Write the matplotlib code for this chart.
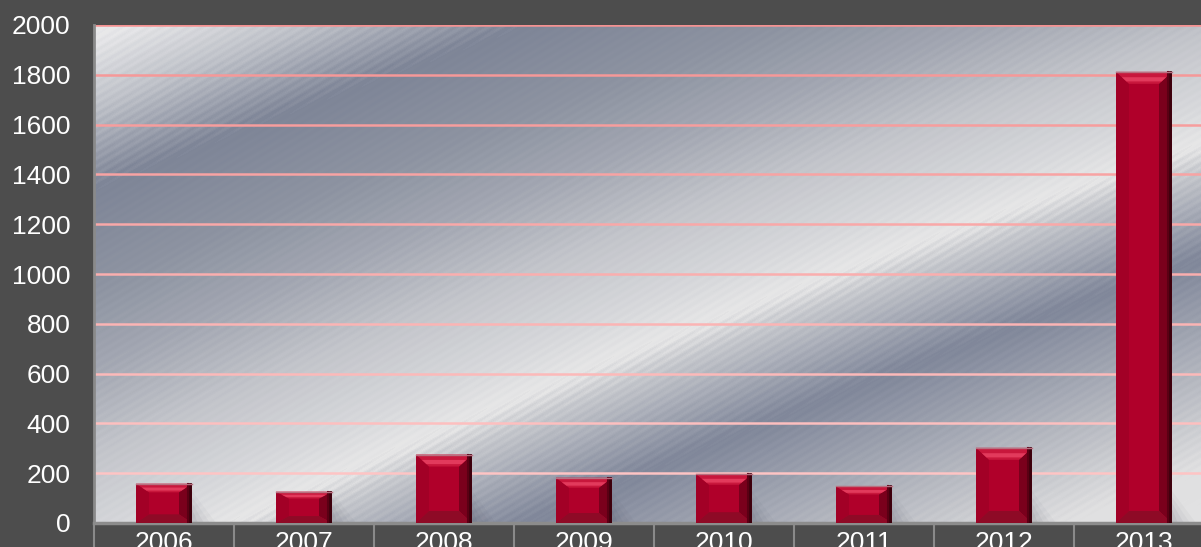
import numpy as np
import matplotlib
matplotlib.use("Agg")
import matplotlib.pyplot as plt
from matplotlib.colors import LinearSegmentedColormap, to_rgb
from matplotlib.patches import Polygon

# data
years = ["2006", "2007", "2008", "2009", "2010", "2011", "2012", "2013"]
counts = [158, 126, 275, 182, 197, 147, 302, 1812]
yticks = [0, 200, 400, 600, 800, 1000, 1200, 1400, 1600, 1800, 2000]

plt.rcParams['font.family'] = ['Liberation Sans', 'DejaVu Sans']

fig = plt.figure(figsize=(12.01, 5.47), dpi=100)
fig.patch.set_facecolor('#4d4d4d')
ax = fig.add_axes([94 / 1201, 24 / 547, 1120 / 1201, 498 / 547])

# metallic diagonal background (pixel grid of the plot area)
H, W = 498, 1120
yy, xx = np.mgrid[0:H, 0:W]
v = (yy + 25) + 0.48 * (xx + 94) - 0.1 * (xx + 94) * (1 - (yy + 25) / 523.0)
n = (v - 70) / 1036.0
metal = LinearSegmentedColormap.from_list("metal", [
    (0.00, '#e8e8ea'), (0.07, '#bfc2c9'), (0.15, '#7e8597'),
    (0.25, '#8e94a2'), (0.33, '#a4a8b3'), (0.41, '#c2c4ca'),
    (0.50, '#d8d9dc'), (0.545, '#e7e7e7'), (0.575, '#c6c8cd'),
    (0.68, '#80879a'), (0.85, '#c0c2c8'), (0.93, '#e0e0e1'), (1.00, '#e2e2e3')])
streak = 0.006 * np.sin(2 * np.pi * (yy + 0.6 * xx) / 8.0)
bg = np.clip(n + streak, 0, 1)
ax.imshow(bg, cmap=metal, vmin=0, vmax=1, extent=[0, 1, 0, 1],
          transform=ax.transAxes, aspect='auto', zorder=0, interpolation='bilinear')

x = np.arange(len(years))
ax.set_xlim(-0.5, len(years) - 0.5)
ax.set_ylim(0, 2000)

# gridlines: stronger pink at the top, paler near the bottom
c_top = np.array(to_rgb('#f59292'))
c_bot = np.array(to_rgb('#ffcaca'))
for yv in yticks:
    f = yv / 2000.0
    ax.axhline(yv, color=c_bot + (c_top - c_bot) * f, lw=1.8, zorder=1)

# bevelled bars
bw = 0.4
bars = ax.bar(x, counts, width=bw, color='#b0002a', zorder=3, linewidth=0)
ppx = 2000 / 498.0  # data units per pixel (vertical)
upx = 8 / 1120.0    # x units per pixel
for b in bars:
    x0 = b.get_x()
    x1 = x0 + b.get_width()
    h = b.get_height()
    dx = 13 * upx
    dy = min(12 * ppx, h * 0.22)
    # soft shadow at the bottom right
    for k, a in enumerate([0.06, 0.05, 0.04, 0.03]):
        sw = (6 + 6 * k) * upx
        sh = min(h, (14 + 6 * k) * ppx)
        ax.add_patch(Polygon([(x1, 0), (x1 + sw, 0), (x1, sh)], closed=True,
                             fc='#303040', ec='none', alpha=a, zorder=2))
    top = [(x0, h), (x1, h), (x1 - dx, h - dy), (x0 + dx, h - dy)]
    hil = [(x0 + dx * 0.45, h - dy * 0.45), (x1 - dx * 0.45, h - dy * 0.45),
           (x1 - dx * 0.8, h - dy * 0.8), (x0 + dx * 0.8, h - dy * 0.8)]
    bot = [(x0, 0), (x1, 0), (x1 - dx, dy), (x0 + dx, dy)]
    left = [(x0, 0), (x0, h), (x0 + dx, h - dy), (x0 + dx, dy)]
    right = [(x1, 0), (x1, h), (x1 - dx, h - dy), (x1 - dx, dy)]
    ax.add_patch(Polygon(left, closed=True, fc='#a20026', ec='none', zorder=4))
    ax.add_patch(Polygon(right, closed=True, fc='#7a001c', ec='none', zorder=4))
    ax.add_patch(Polygon(bot, closed=True, fc='#8e0a26', ec='none', zorder=4))
    ax.add_patch(Polygon(top, closed=True, fc='#c8173c', ec='none', zorder=4))
    ax.add_patch(Polygon(hil, closed=True, fc='#e23a5c', ec='none', zorder=4))
    ax.plot([x1 - 2 * upx, x1 - 2 * upx], [0, h], color='#3a000c', lw=2, zorder=5)
    ax.plot([x1 - 4.5 * upx, x1 - 4.5 * upx], [0, h], color='#5a0014', lw=1.5, zorder=5)
    ax.plot([x0, x1], [h, h], color='#b87080', lw=1, zorder=5)

ax.set_yticks(yticks)
ax.set_xticks(x)
ax.set_xticklabels(years)
ax.set_xticks(np.arange(len(years) + 1) - 0.5, minor=True)
ax.tick_params(axis='y', length=0, pad=17, labelsize=19, labelcolor='white')
ax.tick_params(axis='x', which='major', length=0, pad=6, labelsize=19, labelcolor='white')
ax.tick_params(axis='x', which='minor', length=40, width=1.5, color='#8a8a8a', direction='out')

for s in ['top', 'right']:
    ax.spines[s].set_visible(False)
ax.spines['bottom'].set_color('#8c8c8c')
ax.spines['bottom'].set_linewidth(2.5)
ax.spines['left'].set_color('#8a8a8a')
ax.spines['left'].set_linewidth(2)

fig.savefig("out.png", dpi=100, facecolor=fig.get_facecolor())
